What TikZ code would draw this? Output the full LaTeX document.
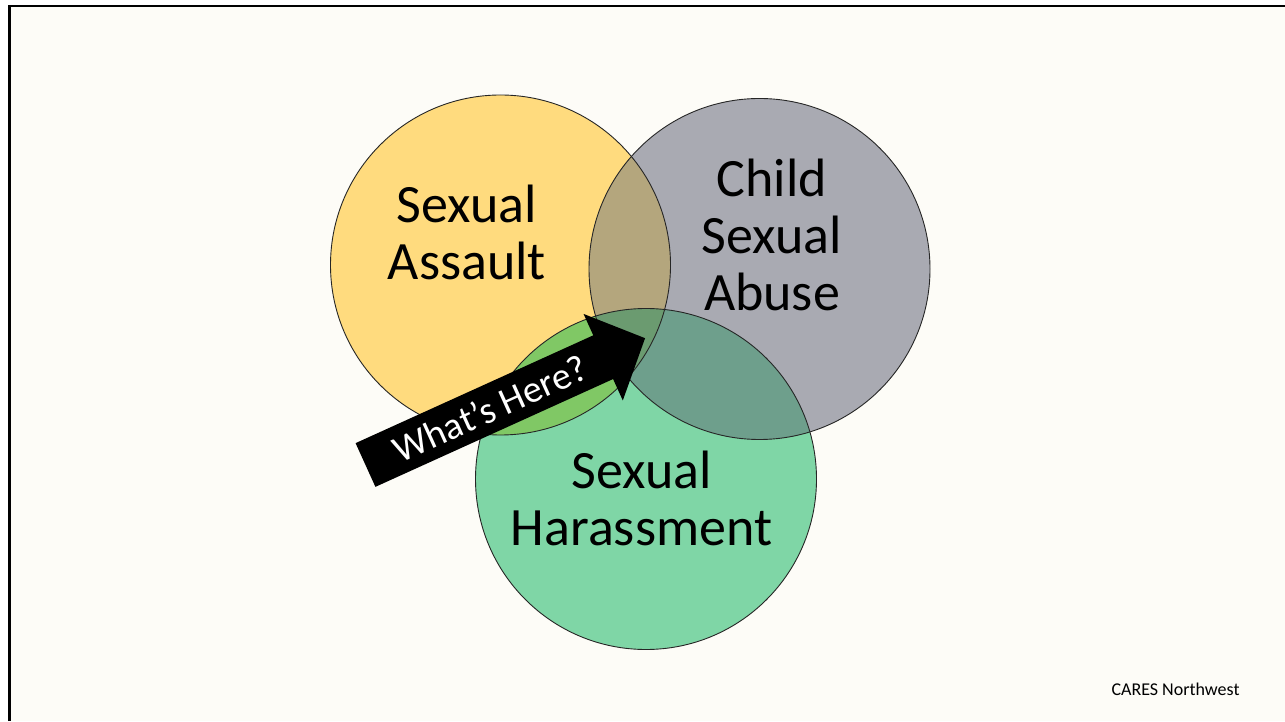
\documentclass[tikz,border=0pt]{standalone}
\usepackage{fontspec}
\setmainfont{Carlito}
\usepackage{tikz}
\usetikzlibrary{calc,positioning,backgrounds}
\definecolor{slidebg}{HTML}{FDFCF7}
\definecolor{assaultfill}{HTML}{FFDB7E}
\definecolor{abusefill}{HTML}{A9AAB2}
\definecolor{harassfill}{HTML}{7FD6A6}
\definecolor{assaultabuse}{HTML}{B4A67D}
\definecolor{assaultharass}{HTML}{80C865}
\definecolor{abuseharass}{HTML}{6E9F8C}
\definecolor{allthree}{HTML}{6B9B70}
\tikzset{
	venn/.style={draw=black!85,line width=0.9pt},
	biglabel/.style={align=center,anchor=base,font=\fontsize{54}{57}\selectfont},
}

\begin{document}
\begin{tikzpicture}[x=1pt,y=1pt]
		\useasboundingbox (0,0) rectangle (1285,721);
		\fill[white] (0,0) rectangle (1285,721);
		\fill[slidebg] (9.5,0) rectangle (1285,715);
		\draw[line width=2.6pt] (9.5,0) -- (9.5,715) -- (1285,715);
		\coordinate (a) at (500.5,456);
		\coordinate (c) at (759.5,452);
		\coordinate (h) at (646,242);
		\fill[assaultfill] (a) circle[radius=170];
		\fill[abusefill] (c) circle[radius=170.5];
		\fill[harassfill] (h) circle[radius=170.5];
		\begin{scope}
			\clip (c) circle[radius=170.5];
			\fill[abuseharass] (h) circle[radius=170.5];
		\end{scope}
		\begin{scope}
			\clip (a) circle[radius=170];
			\fill[assaultabuse] (c) circle[radius=170.5];
			\fill[assaultharass] (h) circle[radius=170.5];
			\clip (c) circle[radius=170.5];
			\fill[allthree] (h) circle[radius=170.5];
		\end{scope}
		\draw[venn] (a) circle[radius=170];
		\draw[venn] (c) circle[radius=170.5];
		\draw[venn] (h) circle[radius=170.5];
		\begin{scope}[shift={(365.5,256)},rotate=24.4]
			\fill (0,-24) -- (261,-24) -- (261,-47.5) -- (307,0) -- (261,47.5) -- (261,24) -- (0,24) -- cycle;
			\node (here) [text=white,font=\fontsize{38}{42}\selectfont,rotate=24.4] at (137,0) {What’s Here?};
		\end{scope}
		\node (assaultlabel) [biglabel] at (467,441) {Sexual\\Assault};
		\node (abuselabel) [biglabel] at (772,410) {Child\\Sexual\\Abuse};
		\node (harasslabel) [biglabel] at (641.5,176) {Sexual\\Harassment};
		\node (credit) [anchor=base,font=\fontsize{18}{22}\selectfont] at (1175.5,26) {CARES Northwest};
	\end{tikzpicture}
\end{document}
